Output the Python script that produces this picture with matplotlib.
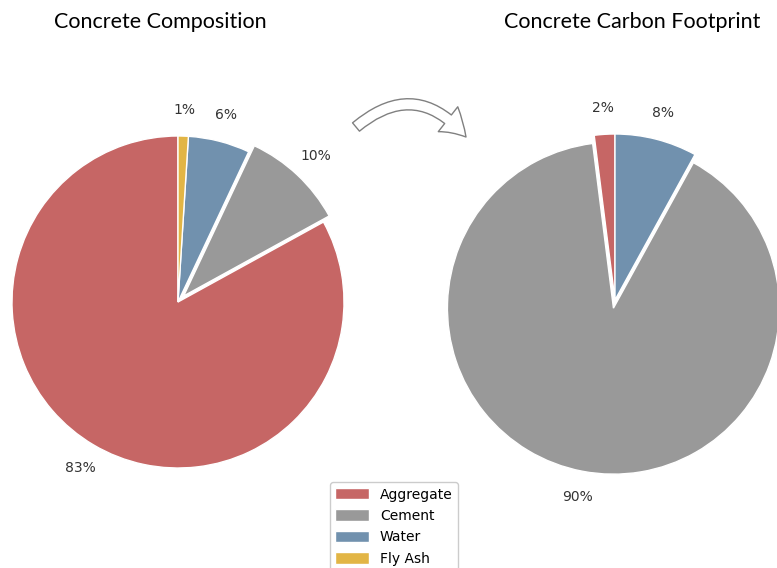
import matplotlib
matplotlib.use("Agg")
import matplotlib.pyplot as plt
from matplotlib.patches import FancyArrowPatch

# Mix by mass vs. share of embodied carbon
materials = ["Aggregate", "Cement", "Water", "Fly Ash"]
composition = [83, 10, 6, 1]
footprint = [2, 90, 8]

colors = ["#c66665", "#999999", "#7191ae", "#e2b545"]
text_color = "#333333"

W, H = 777, 568
fig = plt.figure(figsize=(W / 100, H / 100), dpi=100)

PIE_R = 166          # radius in pixels
BOX = 2.5 * PIE_R    # pie() uses limits of +/-1.25


def pie_axes(cx, cy):
    # cx, cy: pie centre in pixels from the top-left corner
    return fig.add_axes([(cx - BOX / 2) / W, (H - cy - BOX / 2) / H, BOX / W, BOX / H])


def draw_pie(ax, values, cols, explode):
    wedges, texts, autotexts = ax.pie(
        values, colors=cols, explode=explode, startangle=90,
        autopct="%1.0f%%", pctdistance=1.16,
        wedgeprops=dict(edgecolor="white", linewidth=1.0),
        textprops=dict(color=text_color, fontsize=10))
    for w in wedges:
        w.set_clip_on(False)
    return wedges


ax1 = pie_axes(178, 302)
wedges = draw_pie(ax1, composition, colors, [0, 0.05, 0, 0])

ax2 = pie_axes(615, 300)
draw_pie(ax2, footprint, colors[:3], [0, 0.05, 0])

title_font = dict(family=["Lato", "DejaVu Sans"], fontsize=15.5, color="black",
                  ha="center", va="center")
fig.text(160 / W, 1 - 22 / H, "Concrete Composition", **title_font)
fig.text(632 / W, 1 - 22 / H, "Concrete Carbon Footprint", **title_font)

# curved arrow between the two pies
arrow = FancyArrowPatch(
    (356 / W, 1 - 127 / H), (466 / W, 1 - 137 / H),
    transform=fig.transFigure, connectionstyle="arc3,rad=-0.5",
    arrowstyle="simple,head_length=1.4,head_width=1.75,tail_width=0.6",
    shrinkA=0, shrinkB=0,
    mutation_scale=13, facecolor="white", edgecolor="#808080", linewidth=1)
fig.patches.append(arrow)

fig.legend(wedges, materials, loc="upper center",
           bbox_to_anchor=(394 / W, 1 - 475 / H), fontsize=10,
           handlelength=2.4, handleheight=0.9, labelspacing=0.53,
           framealpha=1, edgecolor="#cccccc")

fig.savefig("out.png", dpi=100)
